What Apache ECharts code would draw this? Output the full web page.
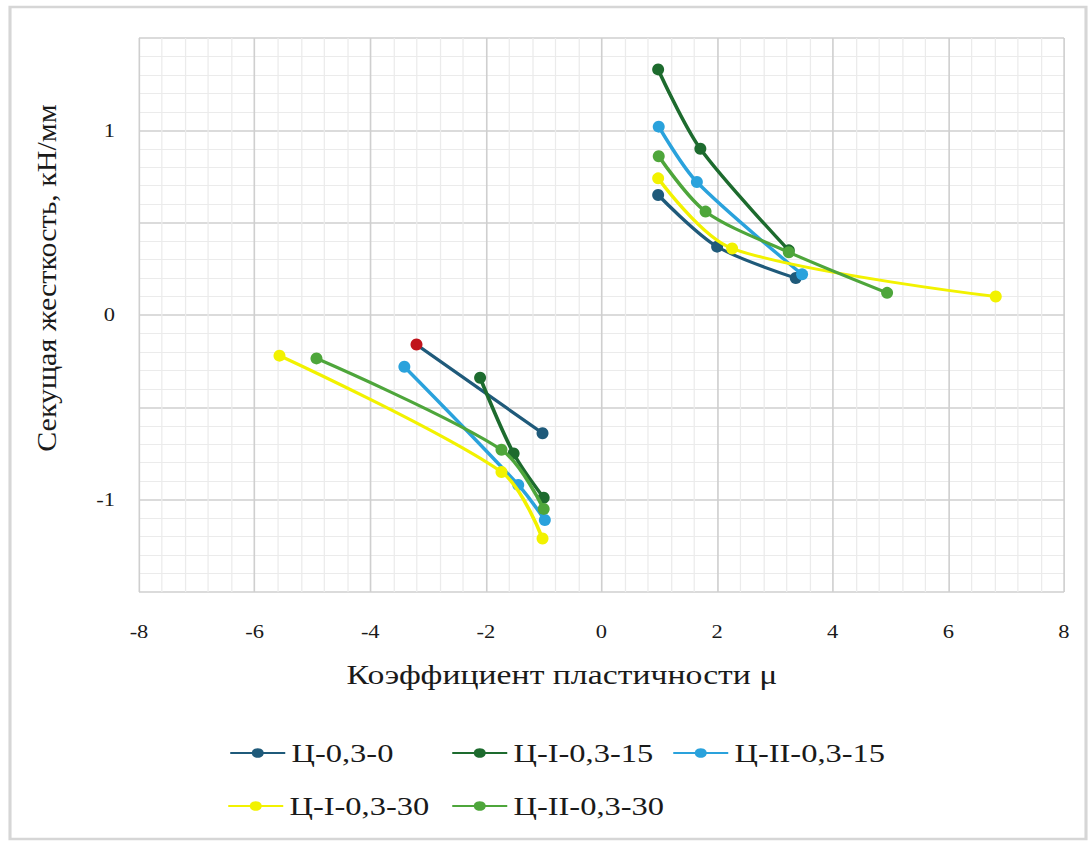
<!DOCTYPE html>
<html>
<head>
<meta charset="utf-8">
<script src="https://cdn.jsdelivr.net/npm/echarts@6/dist/echarts.min.js"></script>
<style>
  html, body { margin: 0; padding: 0; background: #ffffff; overflow: hidden; }
  /* the chart is laid out narrower and widened, giving the wide serif lettering */
  #chart { width: 873px; height: 842px; transform: scaleX(1.2497); transform-origin: 0 0; }
</style>
</head>
<body>
<div id="chart"></div>
<script>
// Secant stiffness vs. ductility factor, negative and positive branches per specimen
const seriesNames = ['Ц-0,3-0', 'Ц-I-0,3-15', 'Ц-II-0,3-15', 'Ц-I-0,3-30', 'Ц-II-0,3-30'];
const seriesColors = ['#1f5a7a', '#1d6b2e', '#2aa2dc', '#f2f200', '#4ea63b'];

// Ц-0,3-0
const c0NegMu = [-3.20, -1.02];
const c0NegK  = [-0.16, -0.64];
const c0PosMu = [0.98, 2.00, 3.36];
const c0PosK  = [0.65, 0.37, 0.20];
// Ц-I-0,3-15
const i15NegMu = [-2.10, -1.52, -1.00];
const i15NegK  = [-0.34, -0.75, -0.99];
const i15PosMu = [0.98, 1.71, 3.24];
const i15PosK  = [1.33, 0.90, 0.35];
// Ц-II-0,3-15
const ii15NegMu = [-3.41, -1.44, -0.98];
const ii15NegK  = [-0.28, -0.92, -1.11];
const ii15PosMu = [0.99, 1.65, 3.47];
const ii15PosK  = [1.02, 0.72, 0.22];
// Ц-I-0,3-30
const i30NegMu = [-5.57, -1.73, -1.02];
const i30NegK  = [-0.22, -0.85, -1.21];
const i30PosMu = [0.98, 2.26, 6.82];
const i30PosK  = [0.74, 0.36, 0.10];
// Ц-II-0,3-30
const ii30NegMu = [-4.93, -1.73, -1.00];
const ii30NegK  = [-0.235, -0.73, -1.05];
const ii30PosMu = [0.99, 1.80, 3.24, 4.94];
const ii30PosK  = [0.86, 0.56, 0.34, 0.12];

const xTicks = [-8, -6, -4, -2, 0, 2, 4, 6, 8];
const yTickLabels = [-1, 0, 1];

const SX = 1.2497;                 // horizontal widening of the whole chart
const px = v => v / SX;            // page x-distance -> layout x-distance
const FONT = "'Liberation Serif', 'Times New Roman', serif";

function pairs(xs, ys) { return xs.map((x, i) => [x, ys[i]]); }
// negative branch, gap, positive branch
function branches(nx, ny, pxs, pys) {
  return pairs(nx, ny).concat([['-', '-']], pairs(pxs, pys));
}

const seriesData = [
  branches(c0NegMu, c0NegK, c0PosMu, c0PosK),
  branches(i15NegMu, i15NegK, i15PosMu, i15PosK),
  branches(ii15NegMu, ii15NegK, ii15PosMu, ii15PosK),
  branches(i30NegMu, i30NegK, i30PosMu, i30PosK),
  branches(ii30NegMu, ii30NegK, ii30PosMu, ii30PosK)
];
// first point of Ц-0,3-0 is marked in red
seriesData[0][0] = { value: seriesData[0][0], itemStyle: { color: '#c0141c' } };

const MARK = 12;
const series = seriesNames.map((name, i) => ({
  name: name,
  type: 'line',
  data: seriesData[i],
  smooth: 0.3,
  connectNulls: false,
  symbol: 'circle',
  symbolSize: [px(MARK), MARK],   // stays round after widening
  showSymbol: true,
  color: seriesColors[i],
  lineStyle: { width: 3, color: seriesColors[i] },
  itemStyle: { color: seriesColors[i] },
  emphasis: { disabled: true },
  z: 2 + i
}));

// Legend laid out in fixed columns, two rows
const legendPos = [
  [229, 740], [451, 740], [672, 740],
  [227, 793], [451, 793]
];
const legends = seriesNames.map((name, i) => ({
  data: [name],
  left: px(legendPos[i][0]),
  top: legendPos[i][1],
  padding: 0,
  itemWidth: px(55),
  itemHeight: 12,
  itemGap: 4,
  textStyle: { fontFamily: FONT, fontSize: 26, color: '#1a1a1a' },
  selectedMode: false
}));

const chart = echarts.init(document.getElementById('chart'), null, { renderer: 'svg' });
chart.setOption({
  animation: false,
  backgroundColor: '#ffffff',
  grid: { left: px(139), right: px(27), top: 38, bottom: 250, containLabel: false },
  legend: legends,
  xAxis: {
    type: 'value',
    min: xTicks[0],
    max: xTicks[xTicks.length - 1],
    interval: 2,
    axisLine: { show: false },
    axisTick: { show: false },
    axisLabel: { fontFamily: FONT, fontSize: 18, color: '#1a1a1a', margin: 31 },
    splitLine: { show: true, lineStyle: { color: '#cfcfcf', width: 1.3 } },
    minorTick: { show: false, splitNumber: 5 },
    minorSplitLine: { show: true, lineStyle: { color: '#ebebeb', width: 1 } }
  },
  yAxis: {
    type: 'value',
    min: -1.5,
    max: 1.5,
    interval: 0.5,
    axisLine: { show: false },
    axisTick: { show: false },
    axisLabel: {
      fontFamily: FONT, fontSize: 18, color: '#1a1a1a', margin: px(24),
      formatter: v => (yTickLabels.indexOf(v) >= 0 ? String(v) : '')
    },
    splitLine: { show: true, lineStyle: { color: '#cfcfcf', width: 1.5 } },
    minorTick: { show: false, splitNumber: 5 },
    minorSplitLine: { show: true, lineStyle: { color: '#ebebeb', width: 1 } }
  },
  graphic: [
    {
      type: 'rect', z: -1, silent: true,
      shape: { x: px(10), y: 7, width: px(1076), height: 832 },
      style: { fill: 'none', stroke: '#d6d6d6', lineWidth: 2.5 }
    },
    {
      type: 'text', silent: true,
      x: px(562), y: 675,
      style: {
        text: 'Коэффициент пластичности μ',
        font: "27px 'Liberation Serif', 'Times New Roman', serif",
        fill: '#1a1a1a', align: 'center', verticalAlign: 'middle'
      }
    },
    {
      type: 'text', silent: true,
      x: px(47), y: 278, rotation: Math.PI / 2, scaleY: 0.72,
      style: {
        text: 'Секущая жесткость, кН/мм',
        font: "30px 'Liberation Serif', 'Times New Roman', serif",
        fill: '#1a1a1a', align: 'center', verticalAlign: 'middle'
      }
    }
  ],
  series: series
});
</script>
</body>
</html>
